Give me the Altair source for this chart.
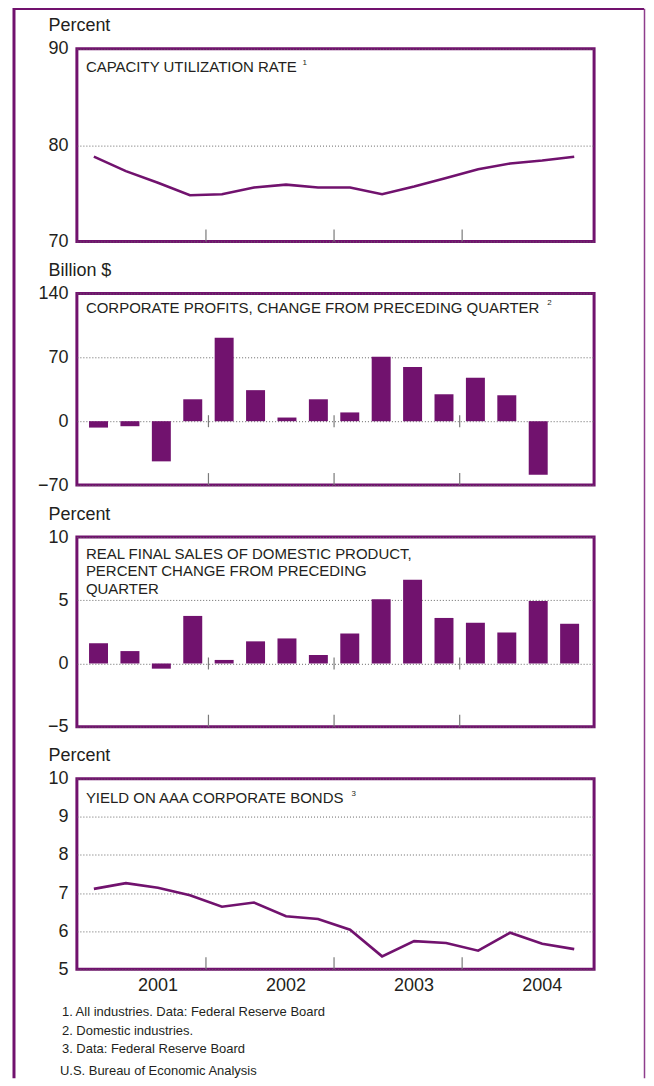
import altair as alt
import pandas as pd

quarters = ["2001Q1", "2001Q2", "2001Q3", "2001Q4",
            "2002Q1", "2002Q2", "2002Q3", "2002Q4",
            "2003Q1", "2003Q2", "2003Q3", "2003Q4",
            "2004Q1", "2004Q2", "2004Q3", "2004Q4"]
capacity = [78.8, 77.3, 76.1, 74.8, 74.9, 75.6, 75.9, 75.6,
            75.6, 74.9, 75.7, 76.6, 77.5, 78.1, 78.4, 78.8]
profits = [-7, -5.5, -44, 24, 91.5, 34, 4, 24,
           9.6, 70.5, 59.4, 29.5, 47.6, 28.4, -58.7]
sales = [1.6, 0.98, -0.41, 3.76, 0.28, 1.75, 1.98, 0.67,
         2.37, 5.08, 6.62, 3.6, 3.22, 2.45, 4.95, 3.14]
yields = [7.11, 7.26, 7.14, 6.94, 6.64, 6.75, 6.39, 6.32,
          6.04, 5.34, 5.74, 5.69, 5.49, 5.96, 5.67, 5.53]
years = ["2001", "2002", "2003", "2004"]
footnotes = ["1. All industries. Data: Federal Reserve Board",
             "2. Domestic industries.",
             "3. Data: Federal Reserve Board"]
source = "U.S. Bureau of Economic Analysis"

PURPLE = "#71126e"
TEXT = "#231f20"
GRAY = "#7a7a7a"
FONT = "Liberation Sans, Arial, Helvetica, sans-serif"
W = 518

df_cap = pd.DataFrame({"i": range(len(capacity)), "q": quarters, "v": capacity})
df_prof = pd.DataFrame({"i": range(len(profits)), "q": quarters[:len(profits)], "v": profits})
df_sales = pd.DataFrame({"i": range(len(sales)), "q": quarters, "v": sales})
df_yld = pd.DataFrame({"i": range(len(yields)), "q": quarters, "v": yields})
df_years = pd.DataFrame({"year": years, "pos": [4 * k + 2 for k in range(len(years))]})
df_bounds = pd.DataFrame({"pos": [4 * k - 0.5 for k in range(1, len(years))]})

xscale = alt.Scale(domain=[-0.53, 15.62], nice=False, zero=False)
one = alt.Data(values=[{"a": 1}])


def X(field="i:Q"):
    return alt.X(field, scale=xscale, axis=None)


def Y(domain, values, title):
    return alt.Y("v:Q", scale=alt.Scale(domain=domain, nice=False, zero=False),
                 axis=alt.Axis(values=values, title=title, titleAngle=0,
                               titleAlign="left", titleBaseline="alphabetic",
                               titleX=-29, titleY=-18, titleFontSize=18,
                               titleFontWeight="normal", titleColor=TEXT,
                               titleFont=FONT, labelFont=FONT,
                               labelFontSize=18, labelColor=TEXT,
                               labelPadding=9, ticks=False, tickSize=0,
                               domain=False, grid=True, gridColor="#666666",
                               gridDash=[1, 2], gridWidth=1))


def title_text(lines, ybase=22):
    return alt.Chart(one).mark_text(align="left", baseline="alphabetic",
                                    font=FONT, fontSize=15, color=TEXT,
                                    lineHeight=17.5).encode(
        x=alt.value(9), y=alt.value(ybase), text=alt.value(lines))


def sup(t, x, y):
    return alt.Chart(one).mark_text(align="left", baseline="middle", font=FONT,
                                    fontSize=8, color=TEXT).encode(
        x=alt.value(x), y=alt.value(y), text=alt.value(t))


def bottom_ticks(h):
    return alt.Chart(df_bounds).mark_rule(color=GRAY, strokeWidth=1.2).encode(
        x=X("pos:Q"), y=alt.value(h - 12), y2=alt.value(h))


def zero_ticks():
    return alt.Chart(df_bounds).mark_rule(color=GRAY, strokeWidth=1.2,
                                          yOffset=-6, y2Offset=6).encode(
        x=X("pos:Q"), y=alt.datum(0), y2=alt.datum(0))


# Panel 1
H1 = 193
line1 = alt.Chart(df_cap).mark_line(color=PURPLE, strokeWidth=2.6).encode(
    x=X(), y=Y([70, 90], [70, 80, 90], "Percent"))
border_left = alt.Chart(one).mark_rule(color=PURPLE, strokeWidth=3).encode(
    x=alt.value(-63), y=alt.value(-41), y2=alt.value(1031))
border_top = alt.Chart(one).mark_rule(color=PURPLE, strokeWidth=2.2).encode(
    x=alt.value(-63), x2=alt.value(568), y=alt.value(-40))
border_right = alt.Chart(one).mark_rule(color="#8e3d8c", strokeWidth=1.5).encode(
    x=alt.value(568.5), y=alt.value(-40), y2=alt.value(1031))
p1 = alt.layer(line1, bottom_ticks(H1),
               title_text("CAPACITY UTILIZATION RATE", 23), sup("1", 226, 14),
               border_left, border_top, border_right).properties(width=W, height=H1)

# Panel 2
H2 = 192
bars2 = alt.Chart(df_prof).mark_bar(color=PURPLE, size=19).encode(
    x=X(), y=Y([-70, 140], [-70, 0, 70, 140], "Billion $"), y2=alt.datum(0))
p2 = alt.layer(bars2, zero_ticks(), bottom_ticks(H2),
               title_text("CORPORATE PROFITS, CHANGE FROM PRECEDING QUARTER", 20),
               sup("2", 471, 10)).properties(width=W, height=H2)

# Panel 3
H3 = 190
bars3 = alt.Chart(df_sales).mark_bar(color=PURPLE, size=19).encode(
    x=X(), y=Y([-5, 10], [-5, 0, 5, 10], "Percent"), y2=alt.datum(0))
p3 = alt.layer(bars3, zero_ticks(), bottom_ticks(H3),
               title_text(["REAL FINAL SALES OF DOMESTIC PRODUCT,",
                           "PERCENT CHANGE FROM PRECEDING", "QUARTER"], 22)
               ).properties(width=W, height=H3)

# Panel 4
H4 = 191
line4 = alt.Chart(df_yld).mark_line(color=PURPLE, strokeWidth=2.6).encode(
    x=X(), y=Y([5, 10], [5, 6, 7, 8, 9, 10], "Percent"))
year_lbl = alt.Chart(df_years).mark_text(font=FONT, fontSize=18, color=TEXT,
                                         baseline="middle").encode(
    x=X("pos:Q"), y=alt.value(H4 + 17), text="year:N")
notes_df = pd.DataFrame({"t": footnotes, "k": range(len(footnotes))})
notes = alt.Chart(notes_df).mark_text(font=FONT, fontSize=13, color=TEXT,
                                      align="left", baseline="middle").encode(
    x=alt.value(-15),
    y=alt.Y("k:O", scale=alt.Scale(type="point", range=[H4 + 43, H4 + 80],
                                   padding=0), axis=None),
    text="t:N")
src = alt.Chart(one).mark_text(font=FONT, fontSize=13, color=TEXT,
                               align="left", baseline="middle").encode(
    x=alt.value(-17), y=alt.value(H4 + 102), text=alt.value(source))
p4 = alt.layer(line4, bottom_ticks(H4), year_lbl, notes, src,
               title_text("YIELD ON AAA CORPORATE BONDS", 24), sup("3", 275, 15)
               ).resolve_scale(y="independent").properties(width=W, height=H4)

chart = alt.vconcat(p1, p2, p3, p4, spacing=52, bounds="flush").properties(
    padding={"left": 3, "top": -4, "right": -1, "bottom": -3},
    background="white"
).configure(font=FONT).configure_view(stroke=PURPLE, strokeWidth=3, fill="white")

chart.save("out.html", embed_options={"renderer": "svg", "actions": False})
